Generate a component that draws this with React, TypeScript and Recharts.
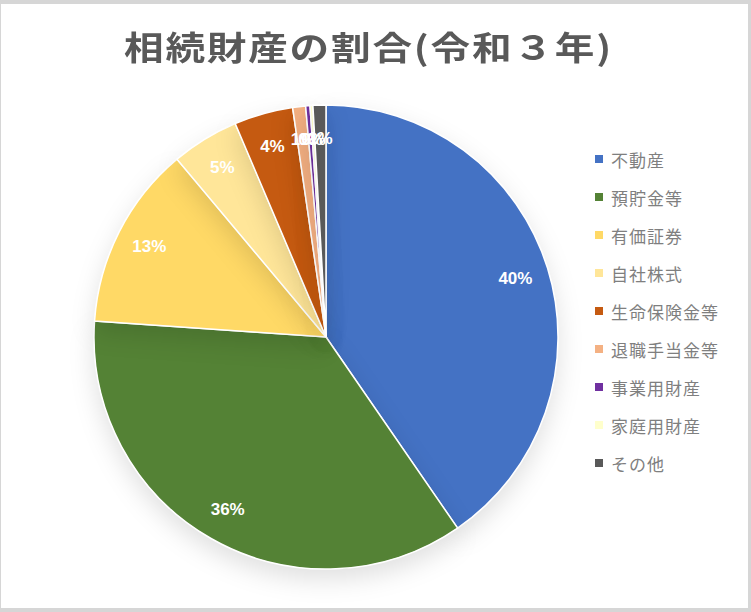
import { PieChart, Pie, Cell, Legend } from "recharts";

const categories = [
  "不動産",
  "預貯金等",
  "有価証券",
  "自社株式",
  "生命保険金等",
  "退職手当金等",
  "事業用財産",
  "家庭用財産",
  "その他",
];
const shares = [40.4, 35.7, 12.8, 4.7, 4.1, 0.9, 0.3, 0.2, 0.9];
const colors = [
  "#4472C4",
  "#548235",
  "#FFD966",
  "#FFE699",
  "#C55A11",
  "#F4B183",
  "#7030A0",
  "#FFFFCC",
  "#595959",
];

const data = categories.map((name, i) => ({ name, value: shares[i] }));

const RAD = Math.PI / 180;
const FONT = '"Noto Sans CJK JP", "Noto Sans", sans-serif';

function renderLabel(props: any) {
  const { cx, cy, midAngle, outerRadius, percent } = props;
  const r = outerRadius * 0.855;
  const x = cx + r * Math.cos(-midAngle * RAD);
  const y = cy + r * Math.sin(-midAngle * RAD);
  return (
    <text
      x={x}
      y={y}
      fill="#ffffff"
      fontSize={17}
      fontWeight={700}
      fontFamily='"Liberation Sans", Arial, sans-serif'
      textAnchor="middle"
      dominantBaseline="central"
    >
      {`${Math.round(percent * 100)}%`}
    </text>
  );
}

function LegendList() {
  return (
    <div style={{ fontFamily: FONT }}>
      {categories.map((c, i) => (
        <div
          key={c}
          style={{
            display: "flex",
            alignItems: "center",
            height: 38,
            color: "#7f7f7f",
            fontSize: 17,
            letterSpacing: 1,
          }}
        >
          <span
            style={{ width: 8, height: 8, background: colors[i], marginRight: 8, display: "inline-block" }}
          />
          {c}
        </div>
      ))}
    </div>
  );
}

export default function App() {
  return (
    <div
      style={{
        position: "fixed",
        left: 0,
        top: 0,
        width: 751,
        height: 612,
        background: "#d6d6d6",
      }}
    >
      <style>{`.pie-wrap .recharts-pie-sector { filter: drop-shadow(0 10px 12px rgba(0,0,0,0.12)); }`}</style>
      <div
        className="pie-wrap"
        style={{
          position: "absolute",
          left: 1,
          top: 4,
          width: 747,
          height: 604,
          background: "#ffffff",
        }}
      >
        <div
          style={{
            position: "absolute",
            left: -6,
            top: 22,
            width: 747,
            textAlign: "center",
            fontFamily: FONT,
            fontSize: 33,
            lineHeight: "40px",
            letterSpacing: 1.5,
            fontWeight: 700,
            color: "#595959",
            transform: "scaleX(1.2)",
            zIndex: 2,
          }}
        >
          相続財産の割合(令和３年)
        </div>
        <PieChart width={747} height={604}>
          <Pie
            data={data}
            dataKey="value"
            nameKey="name"
            cx={320}
            cy={328}
            outerRadius={232}
            startAngle={90}
            endAngle={-270}
            stroke="#ffffff"
            strokeWidth={1.5}
            label={renderLabel}
            labelLine={false}
            isAnimationActive={false}
          >
            {data.map((d, i) => (
              <Cell key={d.name} fill={colors[i]} />
            ))}
          </Pie>
          <Legend
            layout="vertical"
            verticalAlign="top"
            align="right"
            content={() => <LegendList />}
            wrapperStyle={{ left: 594, top: 136, width: 152 }}
          />
        </PieChart>
      </div>
    </div>
  );
}
